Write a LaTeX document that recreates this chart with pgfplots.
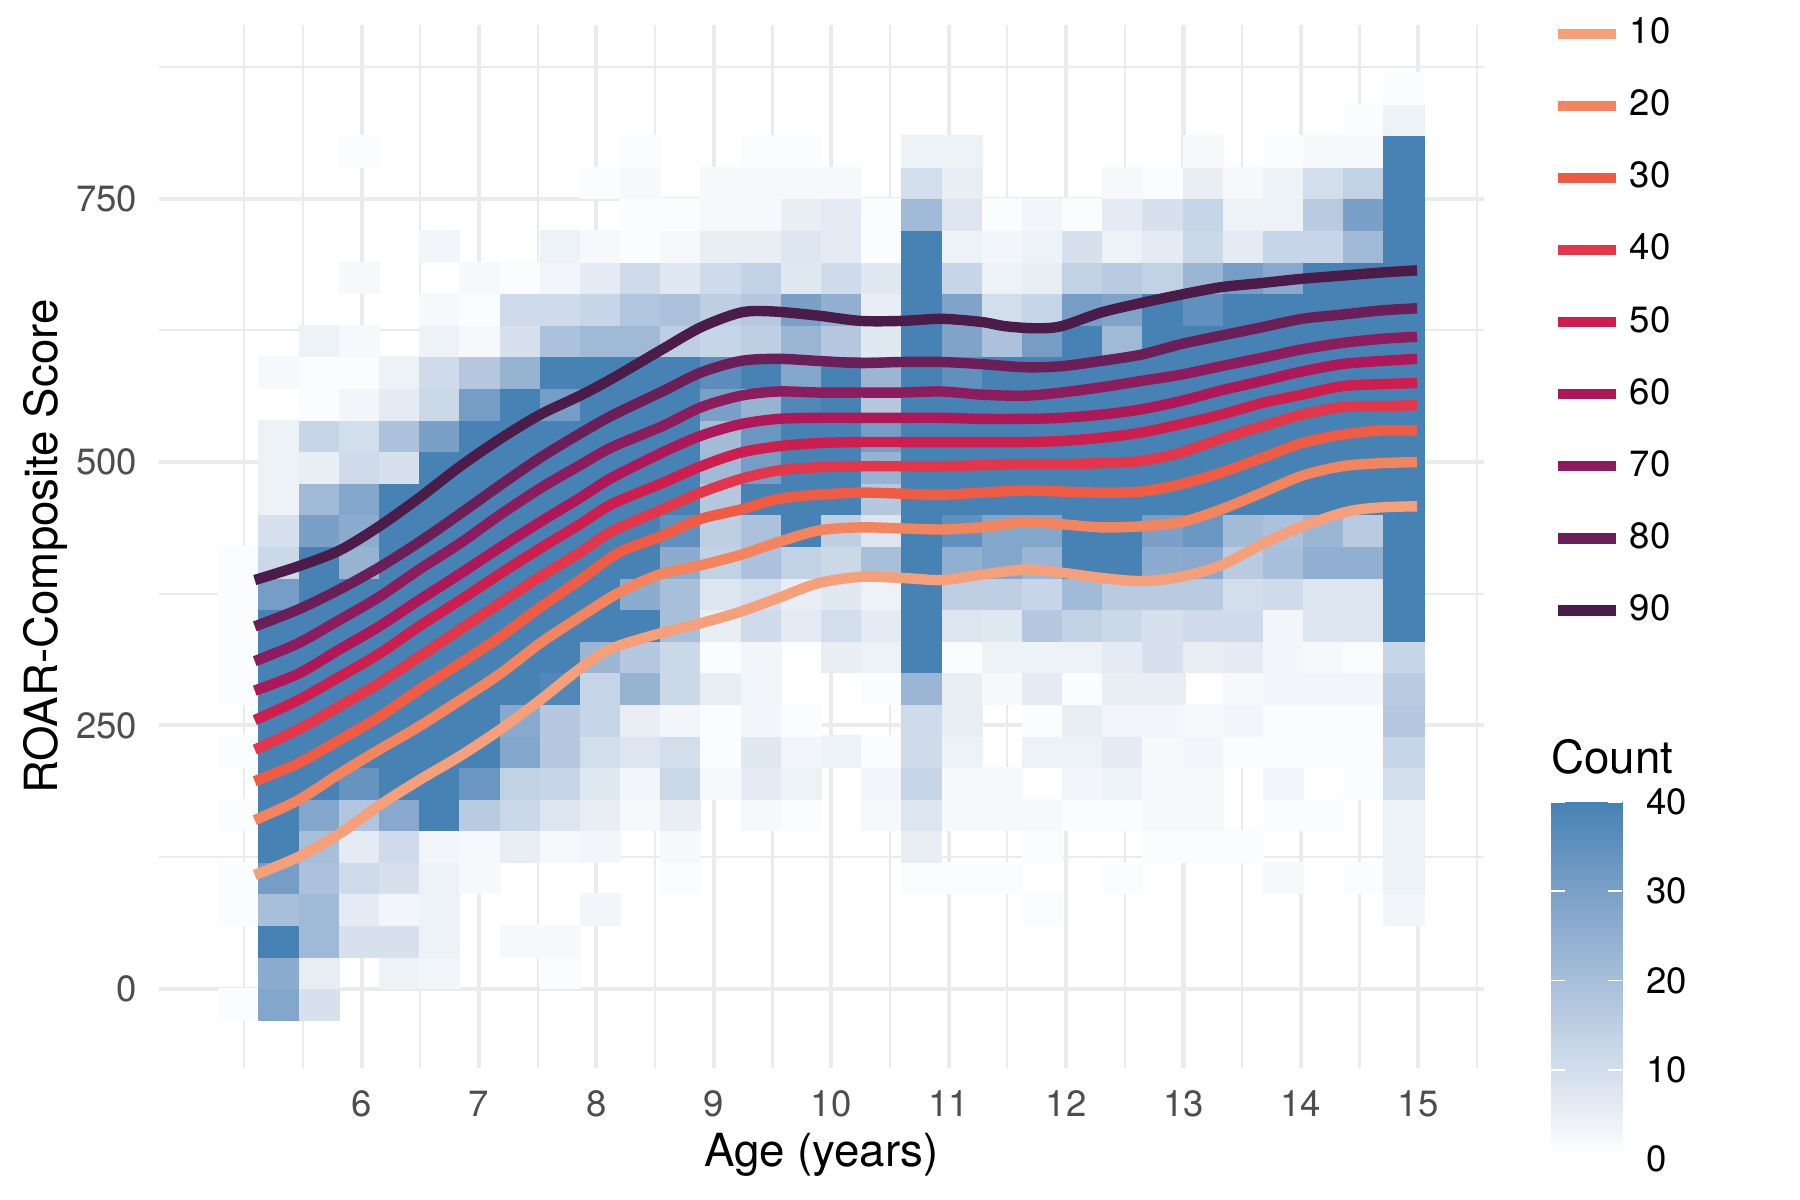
\documentclass[border=0pt]{standalone}
\usepackage{fontspec}
\setmainfont{TeX Gyre Heros}
\usepackage{pgfplots}
\pgfplotsset{compat=1.18}
\definecolor{gridc}{HTML}{EBEBEB}
\definecolor{ticklab}{HTML}{4D4D4D}
\definecolor{p10}{HTML}{F5A07A}
\definecolor{p20}{HTML}{F4845E}
\definecolor{p30}{HTML}{EF5B43}
\definecolor{p40}{HTML}{E3364A}
\definecolor{p50}{HTML}{CD1E4E}
\definecolor{p60}{HTML}{AE1859}
\definecolor{p70}{HTML}{8C1C5D}
\definecolor{p80}{HTML}{6B1E58}
\definecolor{p90}{HTML}{4B1C4A}
\pgfplotsset{colormap={count}{rgb255(0)=(255,255,255) rgb255(1)=(211,222,236) rgb255(2)=(168,191,218) rgb255(3)=(122,160,199) rgb255(4)=(70,130,180)}}
\pgfdeclareplotmark{tile}{%
  \pgfpathrectangle{\pgfpoint{-4.821bp}{-3.792bp}}{\pgfpoint{9.642bp}{7.584bp}}%
  \pgfusepathqfillstroke}
\begin{document}
\begin{tikzpicture}
\path[use as bounding box, fill=white] (-38.04bp,-31.75bp) rectangle (393.96bp,256.25bp);
\begin{axis}[
  scale only axis, width=318.17bp, height=250.27bp,
  xmin=4.270, xmax=15.562, ymin=-75, ymax=915,
  clip mode=individual,
  axis line style={draw=none},
  major tick length=0pt, minor tick length=0pt,
  xtick={6,7,8,9,10,11,12,13,14,15},
  minor xtick={5,5.5,6.5,7.5,8.5,9.5,10.5,11.5,12.5,13.5,14.5,15.5},
  ytick={0,250,500,750}, minor ytick={125,375,625,875},
  grid=both,
  major grid style={draw=gridc, line width=1.0bp},
  minor grid style={draw=gridc, line width=0.53bp},
  /pgf/number format/assume math mode=true,
  xticklabel style={font=\fontsize{8.8}{10}\selectfont, text=ticklab, anchor=north, inner sep=0pt, yshift=-5.35bp},
  yticklabel style={font=\fontsize{8.8}{10}\selectfont, text=ticklab, anchor=east, inner sep=0pt, xshift=-4.95bp},
  xlabel={Age (years)}, ylabel={ROAR-Composite Score},
  xlabel style={font=\fontsize{11}{13}\selectfont, inner sep=0pt, at={(axis description cs:0.5,-0.09494)}, anchor=base},
  ylabel style={font=\fontsize{11}{13}\selectfont, inner sep=0pt, at={(axis description cs:-0.07607,0.5)}, anchor=base},
  legend style={at={(1.05164,1.00671)}, anchor=north west, draw=none, fill=none, inner sep=0pt, outer sep=0pt,
    font=\fontsize{8.8}{10}\selectfont, row sep=9.58bp, column sep=2.1bp, nodes={inner sep=0pt}},
  legend cell align=left,
  legend image code/.code={\draw[#1, line width=2.5bp] (0bp,0bp) -- (13.92bp,0bp);},
  colormap name=count,
  point meta min=0, point meta max=40,
]
\addplot[scatter, only marks, mark=tile, forget plot, point meta=explicit,
  scatter/use mapped color={draw=mapped color, fill=mapped color}, mark options={line width=0.2bp}]
  table[row sep=\\, meta=n]{
x y n\\
4.954 -15 1\\ 4.954 75 1\\ 4.954 105 1\\ 4.954 165 1\\ 4.954 225 1\\ 4.954 285 1\\ 4.954 315 1\\ 4.954 345 1\\ 4.954 375 1\\ 4.954 405 1\\
5.296 -15 28\\ 5.296 15 26\\ 5.296 45 40\\ 5.296 75 20\\ 5.296 105 31\\ 5.296 135 40\\ 5.296 165 40\\ 5.296 195 40\\ 5.296 225 40\\ 5.296 255 40\\ 5.296 285 40\\ 5.296 315 40\\ 5.296 345 40\\ 5.296 375 31\\ 5.296 405 12\\ 5.296 435 9\\ 5.296 465 4\\ 5.296 495 4\\ 5.296 525 4\\ 5.296 585 2\\
5.638 -15 9\\ 5.638 15 5\\ 5.638 45 22\\ 5.638 75 22\\ 5.638 105 19\\ 5.638 135 20\\ 5.638 165 28\\ 5.638 195 40\\ 5.638 225 40\\ 5.638 255 40\\ 5.638 285 40\\ 5.638 315 40\\ 5.638 345 40\\ 5.638 375 40\\ 5.638 405 40\\ 5.638 435 30\\ 5.638 465 22\\ 5.638 495 5\\ 5.638 525 13\\ 5.638 555 1\\ 5.638 585 1\\ 5.638 615 4\\
5.981 45 9\\ 5.981 75 6\\ 5.981 105 11\\ 5.981 135 6\\ 5.981 165 18\\ 5.981 195 34\\ 5.981 225 40\\ 5.981 255 40\\ 5.981 285 40\\ 5.981 315 40\\ 5.981 345 40\\ 5.981 375 40\\ 5.981 405 24\\ 5.981 435 26\\ 5.981 465 28\\ 5.981 495 11\\ 5.981 525 10\\ 5.981 555 3\\ 5.981 585 1\\ 5.981 615 2\\ 5.981 675 2\\ 5.981 795 1\\
6.323 15 4\\ 6.323 45 9\\ 6.323 75 3\\ 6.323 105 9\\ 6.323 135 11\\ 6.323 165 27\\ 6.323 195 40\\ 6.323 225 40\\ 6.323 255 40\\ 6.323 285 40\\ 6.323 315 40\\ 6.323 345 40\\ 6.323 375 40\\ 6.323 405 40\\ 6.323 435 40\\ 6.323 465 40\\ 6.323 495 9\\ 6.323 525 19\\ 6.323 555 6\\ 6.323 585 4\\
6.665 15 3\\ 6.665 45 4\\ 6.665 75 4\\ 6.665 105 4\\ 6.665 135 3\\ 6.665 165 40\\ 6.665 195 40\\ 6.665 225 40\\ 6.665 255 40\\ 6.665 285 40\\ 6.665 315 40\\ 6.665 345 40\\ 6.665 375 40\\ 6.665 405 40\\ 6.665 435 40\\ 6.665 465 40\\ 6.665 495 40\\ 6.665 525 30\\ 6.665 555 12\\ 6.665 585 11\\ 6.665 615 4\\ 6.665 645 2\\ 6.665 705 3\\
7.007 105 2\\ 7.007 135 2\\ 7.007 165 16\\ 7.007 195 33\\ 7.007 225 40\\ 7.007 255 40\\ 7.007 285 40\\ 7.007 315 40\\ 7.007 345 40\\ 7.007 375 40\\ 7.007 405 40\\ 7.007 435 40\\ 7.007 465 40\\ 7.007 495 40\\ 7.007 525 40\\ 7.007 555 31\\ 7.007 585 17\\ 7.007 615 2\\ 7.007 645 1\\ 7.007 675 2\\
7.350 45 2\\ 7.350 135 5\\ 7.350 165 12\\ 7.350 195 14\\ 7.350 225 28\\ 7.350 255 27\\ 7.350 285 40\\ 7.350 315 40\\ 7.350 345 40\\ 7.350 375 40\\ 7.350 405 40\\ 7.350 435 40\\ 7.350 465 40\\ 7.350 495 40\\ 7.350 525 40\\ 7.350 555 40\\ 7.350 585 24\\ 7.350 615 9\\ 7.350 645 11\\ 7.350 675 1\\
7.692 15 1\\ 7.692 45 2\\ 7.692 135 2\\ 7.692 165 8\\ 7.692 195 13\\ 7.692 225 17\\ 7.692 255 17\\ 7.692 285 38\\ 7.692 315 40\\ 7.692 345 40\\ 7.692 375 40\\ 7.692 405 40\\ 7.692 435 40\\ 7.692 465 40\\ 7.692 495 40\\ 7.692 525 40\\ 7.692 555 31\\ 7.692 585 40\\ 7.692 615 19\\ 7.692 645 11\\ 7.692 675 3\\ 7.692 705 4\\
8.034 75 3\\ 8.034 135 3\\ 8.034 165 5\\ 8.034 195 7\\ 8.034 225 10\\ 8.034 255 13\\ 8.034 285 13\\ 8.034 315 23\\ 8.034 345 40\\ 8.034 375 40\\ 8.034 405 40\\ 8.034 435 40\\ 8.034 465 40\\ 8.034 495 40\\ 8.034 525 40\\ 8.034 555 40\\ 8.034 585 40\\ 8.034 615 22\\ 8.034 645 13\\ 8.034 675 6\\ 8.034 705 2\\ 8.034 765 1\\
8.376 165 2\\ 8.376 195 3\\ 8.376 225 8\\ 8.376 255 5\\ 8.376 285 24\\ 8.376 315 17\\ 8.376 345 40\\ 8.376 375 26\\ 8.376 405 40\\ 8.376 435 40\\ 8.376 465 40\\ 8.376 495 40\\ 8.376 525 40\\ 8.376 555 40\\ 8.376 585 40\\ 8.376 615 22\\ 8.376 645 18\\ 8.376 675 11\\ 8.376 705 1\\ 8.376 735 1\\ 8.376 765 2\\ 8.376 795 1\\
8.718 105 1\\ 8.718 135 2\\ 8.718 165 5\\ 8.718 195 12\\ 8.718 225 10\\ 8.718 255 3\\ 8.718 285 12\\ 8.718 315 12\\ 8.718 345 20\\ 8.718 375 20\\ 8.718 405 26\\ 8.718 435 35\\ 8.718 465 40\\ 8.718 495 40\\ 8.718 525 40\\ 8.718 555 40\\ 8.718 585 40\\ 8.718 615 15\\ 8.718 645 19\\ 8.718 675 7\\ 8.718 705 2\\ 8.718 735 1\\
9.060 195 2\\ 9.060 225 1\\ 9.060 255 1\\ 9.060 285 5\\ 9.060 315 1\\ 9.060 345 5\\ 9.060 375 8\\ 9.060 405 14\\ 9.060 435 15\\ 9.060 465 17\\ 9.060 495 22\\ 9.060 525 21\\ 9.060 555 30\\ 9.060 585 36\\ 9.060 615 13\\ 9.060 645 15\\ 9.060 675 11\\ 9.060 705 5\\ 9.060 735 2\\ 9.060 765 2\\
9.403 165 2\\ 9.403 195 6\\ 9.403 225 7\\ 9.403 255 3\\ 9.403 285 3\\ 9.403 315 3\\ 9.403 345 11\\ 9.403 375 10\\ 9.403 405 19\\ 9.403 435 19\\ 9.403 465 40\\ 9.403 495 31\\ 9.403 525 33\\ 9.403 555 24\\ 9.403 585 40\\ 9.403 615 15\\ 9.403 645 17\\ 9.403 675 14\\ 9.403 705 5\\ 9.403 735 2\\ 9.403 765 2\\ 9.403 795 1\\
9.745 165 1\\ 9.745 195 4\\ 9.745 225 3\\ 9.745 255 1\\ 9.745 345 6\\ 9.745 375 5\\ 9.745 405 14\\ 9.745 435 40\\ 9.745 465 40\\ 9.745 495 40\\ 9.745 525 40\\ 9.745 555 38\\ 9.745 585 28\\ 9.745 615 23\\ 9.745 645 30\\ 9.745 675 7\\ 9.745 705 8\\ 9.745 735 5\\ 9.745 765 2\\ 9.745 795 1\\
10.087 225 4\\ 10.087 315 5\\ 10.087 345 10\\ 10.087 375 7\\ 10.087 405 12\\ 10.087 435 15\\ 10.087 465 40\\ 10.087 495 40\\ 10.087 525 40\\ 10.087 555 40\\ 10.087 585 40\\ 10.087 615 17\\ 10.087 645 25\\ 10.087 675 11\\ 10.087 705 6\\ 10.087 735 6\\ 10.087 765 2\\
10.429 165 2\\ 10.429 195 3\\ 10.429 225 1\\ 10.429 285 1\\ 10.429 315 4\\ 10.429 345 6\\ 10.429 375 4\\ 10.429 405 20\\ 10.429 435 8\\ 10.429 465 17\\ 10.429 495 24\\ 10.429 525 31\\ 10.429 555 17\\ 10.429 585 23\\ 10.429 615 7\\ 10.429 645 5\\ 10.429 675 7\\ 10.429 705 1\\ 10.429 735 1\\
10.771 105 1\\ 10.771 135 5\\ 10.771 165 8\\ 10.771 195 13\\ 10.771 225 11\\ 10.771 255 11\\ 10.771 285 23\\ 10.771 315 40\\ 10.771 345 40\\ 10.771 375 40\\ 10.771 405 40\\ 10.771 435 40\\ 10.771 465 40\\ 10.771 495 40\\ 10.771 525 40\\ 10.771 555 40\\ 10.771 585 40\\ 10.771 615 40\\ 10.771 645 40\\ 10.771 675 40\\ 10.771 705 40\\ 10.771 735 22\\ 10.771 765 10\\ 10.771 795 4\\
11.114 105 1\\ 11.114 165 2\\ 11.114 195 2\\ 11.114 225 4\\ 11.114 255 5\\ 11.114 285 5\\ 11.114 315 1\\ 11.114 345 8\\ 11.114 375 15\\ 11.114 405 25\\ 11.114 435 35\\ 11.114 465 40\\ 11.114 495 40\\ 11.114 525 40\\ 11.114 555 40\\ 11.114 585 35\\ 11.114 615 29\\ 11.114 645 29\\ 11.114 675 13\\ 11.114 705 4\\ 11.114 735 8\\ 11.114 765 5\\ 11.114 795 4\\
11.456 105 1\\ 11.456 165 2\\ 11.456 195 2\\ 11.456 285 2\\ 11.456 315 4\\ 11.456 345 7\\ 11.456 375 15\\ 11.456 405 28\\ 11.456 435 28\\ 11.456 465 40\\ 11.456 495 40\\ 11.456 525 40\\ 11.456 555 40\\ 11.456 585 40\\ 11.456 615 19\\ 11.456 645 10\\ 11.456 675 4\\ 11.456 705 3\\ 11.456 735 1\\
11.798 75 1\\ 11.798 135 1\\ 11.798 165 2\\ 11.798 225 4\\ 11.798 255 1\\ 11.798 285 6\\ 11.798 315 4\\ 11.798 345 17\\ 11.798 375 13\\ 11.798 405 23\\ 11.798 435 28\\ 11.798 465 40\\ 11.798 495 40\\ 11.798 525 40\\ 11.798 555 40\\ 11.798 585 40\\ 11.798 615 31\\ 11.798 645 13\\ 11.798 675 5\\ 11.798 705 4\\ 11.798 735 3\\
12.140 165 1\\ 12.140 195 3\\ 12.140 225 4\\ 12.140 255 5\\ 12.140 285 1\\ 12.140 315 4\\ 12.140 345 14\\ 12.140 375 22\\ 12.140 405 40\\ 12.140 435 40\\ 12.140 465 40\\ 12.140 495 40\\ 12.140 525 40\\ 12.140 555 40\\ 12.140 585 40\\ 12.140 615 40\\ 12.140 645 31\\ 12.140 675 14\\ 12.140 705 9\\ 12.140 735 1\\
12.482 105 1\\ 12.482 165 1\\ 12.482 195 4\\ 12.482 225 6\\ 12.482 255 3\\ 12.482 285 5\\ 12.482 315 6\\ 12.482 345 12\\ 12.482 375 16\\ 12.482 405 40\\ 12.482 435 40\\ 12.482 465 40\\ 12.482 495 40\\ 12.482 525 40\\ 12.482 555 40\\ 12.482 585 40\\ 12.482 615 22\\ 12.482 645 29\\ 12.482 675 16\\ 12.482 705 4\\ 12.482 735 6\\ 12.482 765 2\\
12.825 135 1\\ 12.825 165 2\\ 12.825 195 2\\ 12.825 225 2\\ 12.825 255 3\\ 12.825 285 5\\ 12.825 315 9\\ 12.825 345 9\\ 12.825 375 16\\ 12.825 405 26\\ 12.825 435 30\\ 12.825 465 40\\ 12.825 495 40\\ 12.825 525 40\\ 12.825 555 40\\ 12.825 585 40\\ 12.825 615 40\\ 12.825 645 40\\ 12.825 675 14\\ 12.825 705 6\\ 12.825 735 9\\ 12.825 765 1\\
13.167 135 1\\ 13.167 165 2\\ 13.167 195 2\\ 13.167 225 3\\ 13.167 255 2\\ 13.167 315 5\\ 13.167 345 11\\ 13.167 375 16\\ 13.167 405 27\\ 13.167 435 33\\ 13.167 465 40\\ 13.167 495 40\\ 13.167 525 40\\ 13.167 555 40\\ 13.167 585 40\\ 13.167 615 40\\ 13.167 645 35\\ 13.167 675 23\\ 13.167 705 12\\ 13.167 735 13\\ 13.167 765 5\\ 13.167 795 2\\
13.509 135 1\\ 13.509 225 1\\ 13.509 255 3\\ 13.509 285 2\\ 13.509 315 6\\ 13.509 345 11\\ 13.509 375 10\\ 13.509 405 16\\ 13.509 435 21\\ 13.509 465 40\\ 13.509 495 40\\ 13.509 525 40\\ 13.509 555 40\\ 13.509 585 40\\ 13.509 615 40\\ 13.509 645 40\\ 13.509 675 31\\ 13.509 705 6\\ 13.509 735 4\\ 13.509 765 2\\
13.851 105 2\\ 13.851 165 1\\ 13.851 195 3\\ 13.851 225 1\\ 13.851 255 1\\ 13.851 285 3\\ 13.851 315 3\\ 13.851 345 3\\ 13.851 375 11\\ 13.851 405 20\\ 13.851 435 19\\ 13.851 465 40\\ 13.851 495 40\\ 13.851 525 40\\ 13.851 555 40\\ 13.851 585 40\\ 13.851 615 40\\ 13.851 645 40\\ 13.851 675 27\\ 13.851 705 13\\ 13.851 735 4\\ 13.851 765 4\\ 13.851 795 1\\
14.193 165 1\\ 14.193 225 1\\ 14.193 255 1\\ 14.193 285 3\\ 14.193 315 2\\ 14.193 345 8\\ 14.193 375 8\\ 14.193 405 25\\ 14.193 435 23\\ 14.193 465 40\\ 14.193 495 40\\ 14.193 525 40\\ 14.193 555 40\\ 14.193 585 40\\ 14.193 615 40\\ 14.193 645 40\\ 14.193 675 40\\ 14.193 705 13\\ 14.193 735 16\\ 14.193 765 10\\ 14.193 795 2\\
14.536 105 1\\ 14.536 195 1\\ 14.536 225 1\\ 14.536 255 1\\ 14.536 285 3\\ 14.536 315 1\\ 14.536 345 8\\ 14.536 375 8\\ 14.536 405 25\\ 14.536 435 16\\ 14.536 465 40\\ 14.536 495 40\\ 14.536 525 40\\ 14.536 555 40\\ 14.536 585 40\\ 14.536 615 40\\ 14.536 645 40\\ 14.536 675 40\\ 14.536 705 22\\ 14.536 735 30\\ 14.536 765 14\\ 14.536 795 2\\ 14.536 825 1\\
14.878 75 3\\ 14.878 105 4\\ 14.878 135 4\\ 14.878 165 4\\ 14.878 195 10\\ 14.878 225 13\\ 14.878 255 17\\ 14.878 285 16\\ 14.878 315 13\\ 14.878 345 40\\ 14.878 375 40\\ 14.878 405 40\\ 14.878 435 40\\ 14.878 465 40\\ 14.878 495 40\\ 14.878 525 40\\ 14.878 555 40\\ 14.878 585 40\\ 14.878 615 40\\ 14.878 645 40\\ 14.878 675 40\\ 14.878 705 40\\ 14.878 735 40\\ 14.878 765 40\\ 14.878 795 40\\ 14.878 825 4\\ 14.878 855 1\\
};
\pgfplotsset{every axis plot/.append style={line width=2.5bp, line join=round, smooth, mark=none}}
\addplot[p10] coordinates {(5.09,108) (5.46,125) (5.81,147) (6.15,174) (6.49,198) (6.84,221) (7.18,246) (7.52,274) (7.86,304) (8.13,323) (8.53,337) (8.89,347) (9.23,358) (9.55,371) (9.89,385) (10.25,391) (10.6,390) (10.94,388) (11.28,393) (11.65,398) (11.96,395) (12.3,390) (12.64,387) (12.98,391) (13.32,402) (13.67,422) (14.01,439) (14.4,453) (14.69,457) (14.99,458)};
\addplot[p20] coordinates {(5.09,160) (5.46,179) (5.81,204) (6.15,227) (6.49,249) (6.84,274) (7.18,299) (7.52,328) (7.86,353) (8.19,376) (8.53,393) (8.89,402) (9.23,412) (9.55,424) (9.89,435) (10.25,438) (10.6,437) (10.94,436) (11.28,438) (11.65,443) (11.96,441) (12.3,438) (12.64,439) (12.98,443) (13.32,455) (13.67,471) (14.01,487) (14.35,496) (14.69,499) (14.99,500)};
\addplot[p30] coordinates {(5.09,197) (5.46,214) (5.81,236) (6.15,258) (6.49,284) (6.84,309) (7.18,334) (7.52,362) (7.86,388) (8.19,414) (8.56,430) (8.89,446) (9.23,455) (9.55,465) (9.89,469) (10.25,471) (10.6,470) (10.94,469) (11.28,471) (11.65,473) (11.96,472) (12.3,471) (12.64,472) (12.98,479) (13.32,490) (13.67,504) (14.01,518) (14.35,526) (14.69,530) (14.99,530)};
\addplot[p40] coordinates {(5.09,227) (5.46,246) (5.81,268) (6.15,290) (6.49,315) (6.84,341) (7.18,366) (7.52,391) (7.86,414) (8.13,434) (8.56,455) (8.89,471) (9.23,484) (9.55,492) (9.89,495) (10.25,496) (10.6,496) (10.94,496) (11.28,497) (11.65,498) (11.96,498) (12.3,499) (12.64,501) (12.98,509) (13.32,522) (13.67,534) (14.01,545) (14.35,552) (14.69,553) (14.99,554)};
\addplot[p50] coordinates {(5.09,255) (5.46,274) (5.81,296) (6.15,318) (6.49,344) (6.84,369) (7.18,394) (7.52,418) (7.86,441) (8.13,460) (8.56,480) (8.89,496) (9.23,509) (9.55,515) (9.89,518) (10.25,519) (10.6,519) (10.94,519) (11.28,519) (11.65,519) (11.96,520) (12.3,523) (12.64,528) (12.98,536) (13.32,545) (13.67,556) (14.01,564) (14.35,572) (14.69,574) (14.99,575)};
\addplot[p60] coordinates {(5.09,283) (5.46,299) (5.81,322) (6.15,344) (6.49,369) (6.84,394) (7.18,419) (7.52,443) (7.86,466) (8.13,485) (8.56,509) (8.89,525) (9.23,536) (9.55,541) (9.89,542) (10.25,542) (10.6,542) (10.94,542) (11.28,541) (11.65,541) (11.96,542) (12.3,545) (12.64,550) (12.98,558) (13.32,568) (13.67,577) (14.01,586) (14.35,593) (14.69,596) (14.99,598)};
\addplot[p70] coordinates {(5.09,311) (5.46,328) (5.81,350) (6.15,372) (6.49,398) (6.84,423) (7.18,450) (7.52,475) (7.86,497) (8.13,514) (8.56,534) (8.89,552) (9.23,563) (9.55,567) (9.89,566) (10.25,566) (10.6,566) (10.94,567) (11.28,564) (11.65,563) (11.96,566) (12.3,571) (12.64,577) (12.98,583) (13.32,591) (13.67,599) (14.01,607) (14.35,613) (14.69,617) (14.99,619)};
\addplot[p80] coordinates {(5.09,344) (5.46,360) (5.81,379) (6.15,400) (6.49,424) (6.84,451) (7.18,478) (7.52,504) (7.86,527) (8.13,544) (8.56,567) (8.89,585) (9.23,596) (9.55,598) (9.89,596) (10.25,594) (10.6,595) (10.94,595) (11.28,593) (11.65,590) (11.96,591) (12.3,596) (12.64,602) (12.98,612) (13.32,620) (13.67,628) (14.01,636) (14.35,640) (14.69,644) (14.99,646)};
\addplot[p90] coordinates {(5.09,388) (5.46,401) (5.81,416) (6.15,439) (6.49,466) (6.84,496) (7.18,522) (7.52,545) (7.86,563) (8.13,579) (8.56,607) (8.89,628) (9.23,642) (9.5,643) (9.89,639) (10.25,634) (10.6,634) (10.94,636) (11.28,633) (11.48,629) (11.74,627) (11.96,629) (12.3,642) (12.64,651) (12.98,659) (13.32,666) (13.67,670) (14.01,674) (14.35,677) (14.69,680) (14.99,682)};
\legend{10,20,30,40,50,60,70,80,90}
\end{axis}
\begin{axis}[
  at={(334.1bp,-21.98bp)}, anchor=south west,
  scale only axis, width=17.2bp, height=85.8bp,
  xmin=0, xmax=1, ymin=0, ymax=40,
  axis on top,
  axis line style={draw=none},
  xtick=\empty, ytick={0,10,20,30,40}, minor ytick={},
  ytick pos=both, yticklabel pos=right, tick align=inside,
  major tick length=3.4bp, tick style={draw=white, line width=0.45bp},
  /pgf/number format/assume math mode=true,
  yticklabel style={font=\fontsize{8.8}{10}\selectfont, text=black, anchor=west, inner sep=0pt, xshift=5.5bp},
  title={Count},
  title style={at={(axis description cs:0,1)}, anchor=base west, yshift=0.82bp, inner sep=0pt, font=\fontsize{11}{13}\selectfont},
  colormap name=count, point meta min=0, point meta max=40,
]
\addplot[surf, shader=interp, mesh/rows=5, mesh/cols=2, point meta=explicit]
  table[row sep=\\, meta=c]{x y c\\ 0 0 0\\ 1 0 0\\ 0 10 10\\ 1 10 10\\ 0 20 20\\ 1 20 20\\ 0 30 30\\ 1 30 30\\ 0 40 40\\ 1 40 40\\};
\end{axis}
\end{tikzpicture}
\end{document}
